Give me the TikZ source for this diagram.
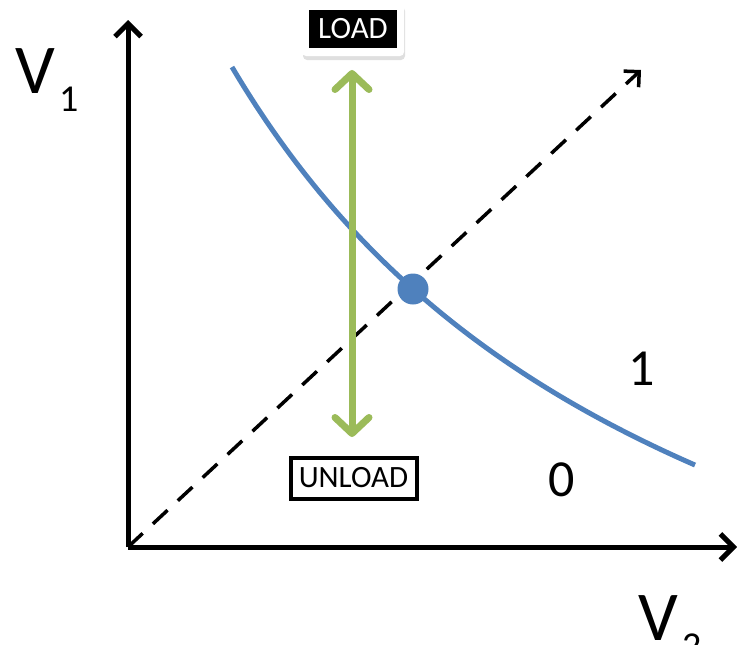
\documentclass[tikz,border=0pt]{standalone}
\usepackage{fontspec}
\setmainfont{Carlito}
\usetikzlibrary{arrows.meta,shadows,calc}
\definecolor{curveblue}{RGB}{79,129,189}
\definecolor{loadgreen}{RGB}{155,187,89}
\begin{document}
\begin{tikzpicture}[x=1pt,y=-1pt,
  axis/.style={line width=5pt,-{Straight Barb[length=13pt,width=26pt,line width=5pt]}},
  diag/.style={line width=3.5pt,dash pattern=on 20pt off 14pt,-{Straight Barb[length=11pt,width=22pt,line width=3.5pt]}},
  greenarrow/.style={line width=7pt,color=loadgreen,{Straight Barb[length=16pt,width=34pt,line width=7pt,round]}-{Straight Barb[length=16pt,width=34pt,line width=7pt,round]}},
  lbl/.style={inner sep=0pt,anchor=base west},
  boxtxt/.style={font=\fontsize{31}{31}\selectfont}
]
\useasboundingbox (0,0) rectangle (737,645);
% axes
\coordinate (O) at (128,547);
\coordinate (ytop) at (128,20);
\coordinate (xend) at (737,547);
\coordinate (dend) at (641,70);
\draw[axis] (O) -- (ytop);
\draw[axis] (O) -- (xend);
% dashed diagonal
\draw[diag] (O) -- (dend);
% blue curve
\draw[curveblue,line width=5pt,line cap=butt] plot[domain=232:695,samples=80,variable=\t]
  (\t,{877.3 - 3886/((\t+247.6)/100)});
\node[circle,fill=curveblue,minimum size=31pt,inner sep=0pt] (eq) at (413,289) {};
% green arrow
\coordinate (gtop) at (352,70);
\coordinate (gbot) at (352,437);
\draw[greenarrow] (gtop) -- (gbot);
% LOAD box
\node[fill=white,rounded corners=4pt,minimum width=102pt,minimum height=53pt,inner sep=0pt,
  drop shadow={shadow xshift=1pt,shadow yshift=-4pt,opacity=0.25}] (loadouter) at (353,29.5) {};
\node[fill=black,text=white,minimum width=88pt,minimum height=38pt,inner sep=0pt,boxtxt] (load) at (353,29) {LOAD};
% UNLOAD box
\node[draw=black,line width=4pt,minimum width=126pt,minimum height=41pt,inner sep=0pt,boxtxt] (unload) at (353.5,478) {UNLOAD};
% labels
\node[lbl,font=\fontsize{70}{70}\selectfont] (v1) at (15,93) {V};
\node[lbl,font=\fontsize{38}{38}\selectfont] (v1s) at (59,111) {1};
\node[lbl,font=\fontsize{70}{70}\selectfont] (v2) at (638,640) {V};
\node[lbl,font=\fontsize{38}{38}\selectfont] (v2s) at (682,658) {2};
\node[inner sep=0pt,font=\fontsize{52}{52}\selectfont] (one) at (642,368.5) {1};
\node[inner sep=0pt,font=\fontsize{52}{52}\selectfont] (zero) at (561.5,480) {0};
\end{tikzpicture}
\end{document}
